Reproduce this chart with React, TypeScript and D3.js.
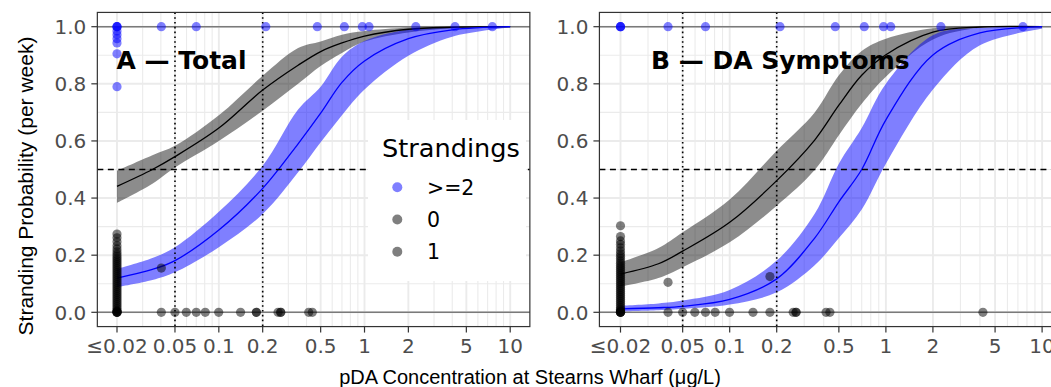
import { useEffect, useRef } from 'react';
import * as d3 from 'd3';

type Pt = [number, number];

const X_BREAKS = [0.02, 0.05, 0.1, 0.2, 0.5, 1, 2, 5, 10];
const X_LABELS = ['≤0.02', '0.05', '0.1', '0.2', '0.5', '1', '2', '5', '10'];
const X_MINOR = [0.03, 0.04, 0.06, 0.07, 0.08, 0.09, 0.3, 0.4, 0.6, 0.7, 0.8, 0.9, 3, 4, 6, 7, 8, 9];
const Y_BREAKS = [0, 0.2, 0.4, 0.6, 0.8, 1];
const Y_MINOR = [0.1, 0.3, 0.5, 0.7, 0.9];
const REF_X = [0.05, 0.2];
const REF_Y = 0.5;

const CURVE_X = [0.02, 0.035, 0.05, 0.1, 0.2, 0.35, 0.5, 0.7, 1, 2, 4, 10];

// A — Total
const A_ANY_FIT = [0.441, 0.5, 0.545, 0.645, 0.778, 0.865, 0.913, 0.943, 0.967, 0.991, 0.998, 1.0];
const A_ANY_LO = [0.383, 0.45, 0.507, 0.6, 0.706, 0.8, 0.862, 0.908, 0.948, 0.98, 0.995, 0.999];
const A_ANY_HI = [0.496, 0.55, 0.583, 0.69, 0.828, 0.925, 0.948, 0.972, 0.985, 0.997, 1.0, 1.0];
const A_MULTI_FIT = [0.12, 0.15, 0.181, 0.288, 0.434, 0.59, 0.697, 0.805, 0.88, 0.958, 0.989, 1.0];
const A_MULTI_LO = [0.088, 0.113, 0.14, 0.228, 0.344, 0.49, 0.595, 0.69, 0.78, 0.898, 0.965, 0.997];
const A_MULTI_HI = [0.152, 0.19, 0.228, 0.352, 0.513, 0.71, 0.79, 0.895, 0.95, 0.99, 0.998, 1.0];

// B — DA Symptoms
const B_ANY_FIT = [0.134, 0.17, 0.214, 0.315, 0.461, 0.603, 0.725, 0.83, 0.902, 0.981, 0.999, 1.0];
const B_ANY_LO = [0.09, 0.12, 0.158, 0.245, 0.373, 0.498, 0.62, 0.73, 0.825, 0.955, 0.996, 1.0];
const B_ANY_HI = [0.175, 0.225, 0.28, 0.395, 0.566, 0.7, 0.83, 0.915, 0.958, 0.995, 1.0, 1.0];
const B_MULTI_FIT = [0.012, 0.016, 0.021, 0.045, 0.117, 0.26, 0.387, 0.5, 0.674, 0.901, 0.978, 1.0];
const B_MULTI_LO = [0.003, 0.007, 0.012, 0.027, 0.07, 0.165, 0.26, 0.36, 0.52, 0.78, 0.935, 0.993];
const B_MULTI_HI = [0.023, 0.031, 0.041, 0.078, 0.181, 0.345, 0.52, 0.645, 0.8, 0.97, 0.996, 1.0];

// observed weeks
const A_MULTI_PTS: Pt[] = [
  [0.02, 1], [0.02, 1], [0.02, 1], [0.02, 0.985], [0.02, 0.972], [0.02, 0.958], [0.02, 0.943],
  [0.02, 0.905], [0.02, 0.79], [0.0403, 1], [0.07, 1], [0.21, 1], [0.474, 1], [0.727, 1],
  [0.966, 1], [1.074, 1], [2.25, 1], [4.18, 1], [7.54, 1],
];
const A_ONE_PTS: Pt[] = [[0.0403, 0.155]];
const A_ZERO_X = [0.0403, 0.05, 0.0598, 0.07, 0.0807, 0.0998, 0.141, 0.181, 0.181, 0.255, 0.266, 0.266, 0.414, 0.438];
const A_LOW_COLUMN = [
  0.274, 0.261, 0.247, 0.233, 0.222, 0.212, 0.203, 0.195, 0.188, 0.181, 0.174, 0.167, 0.16, 0.153,
  0.146, 0.139, 0.132, 0.125, 0.118, 0.111, 0.104, 0.097, 0.09, 0.083, 0.076, 0.069, 0.062, 0.055,
  0.048, 0.041, 0.034, 0.027, 0.02, 0.013, 0.007, 0.003, 0, 0, 0, 0,
];

const B_MULTI_PTS: Pt[] = [
  [0.02, 1], [0.02, 1], [0.02, 1], [0.0403, 1], [0.07, 1], [0.21, 1], [0.474, 1], [0.727, 1],
  [0.966, 1], [1.074, 1], [2.25, 1], [7.54, 1],
];
const B_ONE_PTS: Pt[] = [[0.0403, 0.105], [0.181, 0.125]];
const B_ZERO_X = [0.0403, 0.05, 0.0598, 0.07, 0.0807, 0.0998, 0.141, 0.181, 0.255, 0.266, 0.266, 0.414, 0.438, 4.18];
const B_LOW_COLUMN = [
  0.303, 0.265, 0.25, 0.238, 0.226, 0.215, 0.205, 0.196, 0.188, 0.18, 0.172, 0.164, 0.157, 0.15,
  0.143, 0.136, 0.129, 0.122, 0.115, 0.108, 0.101, 0.094, 0.087, 0.08, 0.073, 0.066, 0.059, 0.052,
  0.045, 0.038, 0.031, 0.024, 0.017, 0.011, 0.006, 0.002, 0, 0, 0, 0,
];

const LEGEND_LABELS = ['>=2', '0', '1'];
const LEGEND_COLORS = ['rgba(0,0,255,0.5)', 'rgba(0,0,0,0.5)', 'rgba(0,0,0,0.5)'];

const GREY_PT = 'rgba(0,0,0,0.5)';
const BLUE_PT = 'rgba(0,0,255,0.5)';
const TICK_FONT = '"DejaVu Sans", sans-serif';
const TITLE_FONT = '"Liberation Sans", Arial, sans-serif';

interface PanelSpec {
  x0: number;
  x1: number;
  title: string;
  titleX: number;
  anyFit: number[];
  anyLo: number[];
  anyHi: number[];
  multiFit: number[];
  multiLo: number[];
  multiHi: number[];
  multiPts: Pt[];
  onePts: Pt[];
  zeroX: number[];
  lowColumn: number[];
}

function drawPanel(svg: d3.Selection<SVGSVGElement, unknown, null, undefined>, p: PanelSpec, y: d3.ScaleLinear<number, number>) {
  const x = d3.scaleLog().domain([0.02, 10]).range([p.x0, p.x1]);
  const span = p.x1 - p.x0;
  const left = p.x0 - 0.05 * span;
  const right = p.x1 + 0.05 * span;
  const top = y(1.05);
  const bottom = y(-0.05);

  const g = svg.append('g');

  // grid
  g.selectAll('line.xminor').data(X_MINOR).join('line')
    .attr('x1', d => x(d)).attr('x2', d => x(d)).attr('y1', top).attr('y2', bottom)
    .attr('stroke', '#ebebeb').attr('stroke-width', 1.1);
  g.selectAll('line.yminor').data(Y_MINOR).join('line')
    .attr('x1', left).attr('x2', right).attr('y1', d => y(d)).attr('y2', d => y(d))
    .attr('stroke', '#ebebeb').attr('stroke-width', 1.1);
  g.selectAll('line.xmajor').data(X_BREAKS).join('line')
    .attr('x1', d => x(d)).attr('x2', d => x(d)).attr('y1', top).attr('y2', bottom)
    .attr('stroke', '#ebebeb').attr('stroke-width', 1.9);
  g.selectAll('line.ymajor').data(Y_BREAKS).join('line')
    .attr('x1', left).attr('x2', right).attr('y1', d => y(d)).attr('y2', d => y(d))
    .attr('stroke', '#ebebeb').attr('stroke-width', 1.9);

  // bounds at 0 and 1
  [0, 1].forEach(v => {
    g.append('line')
      .attr('x1', left).attr('x2', right).attr('y1', y(v)).attr('y2', y(v))
      .attr('stroke', '#7a7a7a').attr('stroke-width', 1.6);
  });

  const smooth = d3.curveCatmullRom.alpha(0.5);
  const area = (lo: number[], hi: number[]) => d3.area<number>()
    .x(d => x(d))
    .y0((_, i) => y(lo[i]))
    .y1((_, i) => y(hi[i]))
    .curve(smooth)(CURVE_X);
  const line = (fit: number[]) => d3.line<number>()
    .x(d => x(d))
    .y((_, i) => y(fit[i]))
    .curve(smooth)(CURVE_X);

  g.append('path').attr('d', area(p.anyLo, p.anyHi)).attr('fill', '#000').attr('fill-opacity', 0.45);
  g.append('path').attr('d', area(p.multiLo, p.multiHi)).attr('fill', '#0000ff').attr('fill-opacity', 0.5);
  g.append('path').attr('d', line(p.anyFit)).attr('fill', 'none').attr('stroke', '#000').attr('stroke-width', 1.3);
  g.append('path').attr('d', line(p.multiFit)).attr('fill', 'none').attr('stroke', '#0000ff').attr('stroke-width', 1.3);

  // reference lines
  g.append('line')
    .attr('x1', left).attr('x2', right).attr('y1', y(REF_Y)).attr('y2', y(REF_Y))
    .attr('stroke', '#000').attr('stroke-width', 1.4).attr('stroke-dasharray', '6 4.5');
  REF_X.forEach(v => {
    g.append('line')
      .attr('x1', x(v)).attr('x2', x(v)).attr('y1', top).attr('y2', bottom)
      .attr('stroke', '#000').attr('stroke-width', 1.6).attr('stroke-dasharray', '1.6 3.2');
  });

  // points
  const zeroPts: Pt[] = [
    ...p.lowColumn.map(v => [0.02, v] as Pt),
    ...p.zeroX.map(v => [v, 0] as Pt),
  ];
  const dots = (pts: Pt[], fill: string) => {
    g.append('g').selectAll('circle').data(pts).join('circle')
      .attr('cx', d => x(d[0])).attr('cy', d => y(d[1])).attr('r', 4.6)
      .attr('fill', fill);
  };
  dots(zeroPts, GREY_PT);
  dots(p.onePts, GREY_PT);
  dots(p.multiPts, BLUE_PT);

  // border
  g.append('rect')
    .attr('x', left).attr('y', top).attr('width', right - left).attr('height', bottom - top)
    .attr('fill', 'none').attr('stroke', '#333').attr('stroke-width', 1.2);

  // y axis
  g.selectAll('line.ytick').data(Y_BREAKS).join('line')
    .attr('x1', left - 6).attr('x2', left).attr('y1', d => y(d)).attr('y2', d => y(d))
    .attr('stroke', '#333').attr('stroke-width', 1.2);
  g.selectAll('text.ylab').data(Y_BREAKS).join('text')
    .attr('x', left - 11).attr('y', d => y(d)).attr('dy', '0.36em')
    .attr('text-anchor', 'end').attr('font-family', TICK_FONT).attr('font-size', 20)
    .attr('fill', '#4d4d4d').text(d => d.toFixed(1));

  // x axis
  g.selectAll('line.xtick').data(X_BREAKS).join('line')
    .attr('x1', d => x(d)).attr('x2', d => x(d)).attr('y1', bottom).attr('y2', bottom + 6)
    .attr('stroke', '#333').attr('stroke-width', 1.2);
  g.selectAll('text.xlab').data(X_BREAKS).join('text')
    .attr('x', d => x(d)).attr('y', 353)
    .attr('text-anchor', 'middle').attr('font-family', TICK_FONT).attr('font-size', 20)
    .attr('fill', '#4d4d4d').text((_, i) => X_LABELS[i]);

  // panel title
  g.append('text')
    .attr('x', p.titleX).attr('y', 68.5)
    .attr('font-family', TICK_FONT).attr('font-weight', 'bold').attr('font-size', 25)
    .attr('fill', '#000').text(p.title);
}

export default function App() {
  const svgRef = useRef<SVGSVGElement>(null);

  useEffect(() => {
    if (!svgRef.current) return;
    const svg = d3.select(svgRef.current);
    svg.selectAll('*').remove();

    const y = d3.scaleLinear().domain([0, 1]).range([312.3, 26.7]);

    drawPanel(svg, {
      x0: 117, x1: 510.2, title: 'A — Total', titleX: 116.5,
      anyFit: A_ANY_FIT, anyLo: A_ANY_LO, anyHi: A_ANY_HI,
      multiFit: A_MULTI_FIT, multiLo: A_MULTI_LO, multiHi: A_MULTI_HI,
      multiPts: A_MULTI_PTS, onePts: A_ONE_PTS, zeroX: A_ZERO_X, lowColumn: A_LOW_COLUMN,
    }, y);

    drawPanel(svg, {
      x0: 620.5, x1: 1042.1, title: 'B — DA Symptoms', titleX: 651,
      anyFit: B_ANY_FIT, anyLo: B_ANY_LO, anyHi: B_ANY_HI,
      multiFit: B_MULTI_FIT, multiLo: B_MULTI_LO, multiHi: B_MULTI_HI,
      multiPts: B_MULTI_PTS, onePts: B_ONE_PTS, zeroX: B_ZERO_X, lowColumn: B_LOW_COLUMN,
    }, y);

    // legend (inside panel A)
    const lg = svg.append('g');
    lg.append('rect')
      .attr('x', 368).attr('y', 120).attr('width', 158).attr('height', 161)
      .attr('fill', '#fff');
    lg.append('text')
      .attr('x', 382).attr('y', 156.5)
      .attr('font-family', TICK_FONT).attr('font-size', 25.6).attr('fill', '#000')
      .text('Strandings');
    LEGEND_LABELS.forEach((label, i) => {
      const cy = 187.3 + i * 32.2;
      lg.append('circle').attr('cx', 397.3).attr('cy', cy).attr('r', 5).attr('fill', LEGEND_COLORS[i]);
      lg.append('text')
        .attr('x', 427).attr('y', cy).attr('dy', '0.36em')
        .attr('font-family', TICK_FONT).attr('font-size', 20.5).attr('fill', '#000')
        .text(label);
    });

    // axis titles
    svg.append('text')
      .attr('transform', 'rotate(-90)')
      .attr('x', -186).attr('y', 33)
      .attr('text-anchor', 'middle')
      .attr('font-family', TITLE_FONT).attr('font-size', 21).attr('fill', '#000')
      .text('Stranding Probability (per week)');
    svg.append('text')
      .attr('x', 530).attr('y', 384)
      .attr('text-anchor', 'middle')
      .attr('font-family', TITLE_FONT).attr('font-size', 20).attr('fill', '#000')
      .text('pDA Concentration at Stearns Wharf (μg/L)');
  }, []);

  return (
    <svg
      ref={svgRef}
      width={1051}
      height={387}
      style={{ position: 'absolute', left: 0, top: 0, background: '#fff' }}
    />
  );
}
